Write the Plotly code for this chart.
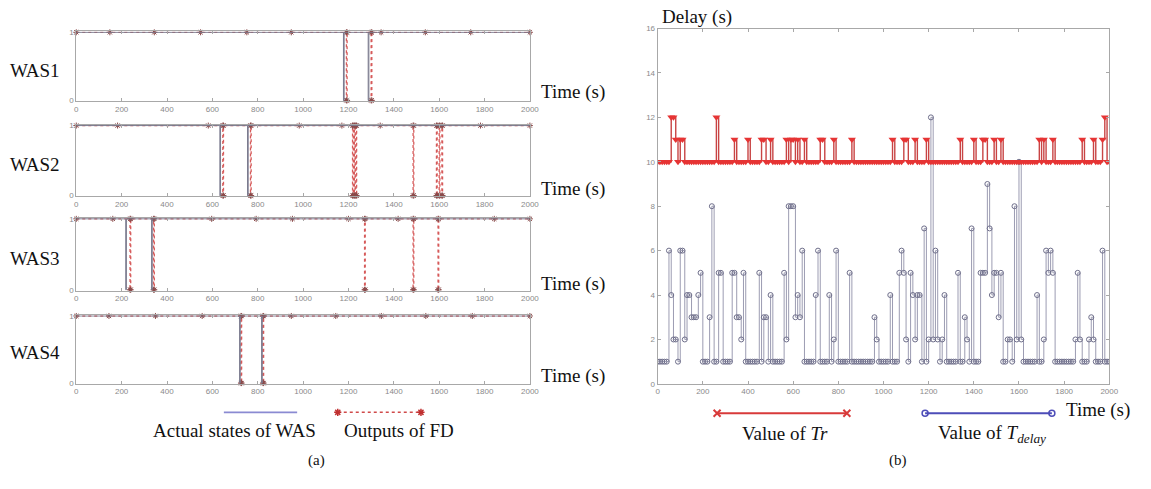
import plotly.graph_objects as go

W, H = 1151, 489

# ---------------- data: panel (a) ----------------
was_names = ["WAS1", "WAS2", "WAS3", "WAS4"]
# times (s) at which the actual state of each WAS drops to 0
actual_down = [
    [1178, 1287],
    [633, 755],
    [218, 332],
    [720, 817],
]
# times (s) at which the failure detector output drops to 0
fd_down = [
    [1191, 1300],
    [646, 768, 1218, 1226, 1233, 1485, 1588, 1600, 1612],
    [237, 341, 1271, 1485, 1595],
    [726, 823],
]
# sampled points (heartbeat marks) of the FD output at state 1
fd_marks = [
    [0, 148, 344, 548, 752, 948, 1344, 1539, 1739, 2000],
    [0, 182, 582, 983, 1171, 1340, 1782, 2000],
    [0, 161, 597, 793, 953, 1200, 1419, 1843, 2000],
    [0, 144, 349, 555, 948, 1144, 1345, 1541, 1746, 2000],
]
x_tick_vals = [0, 200, 400, 600, 800, 1000, 1200, 1400, 1600, 1800, 2000]
state_ticks = [0, 1]
pulse = 3  # seconds a state stays at 0

# ---------------- data: panel (b) ----------------
t_b = list(range(0, 2001, 10))
delay = [
    1, 1, 1, 1, 1, 6, 4, 2, 2, 1,        # 0-90
    6, 6, 2, 4, 4, 3, 3, 3, 4, 5,        # 100-190
    1, 1, 1, 3, 8, 1, 1, 5, 5, 1,        # 200-290
    1, 1, 1, 5, 5, 3, 3, 2, 5, 1,        # 300-390
    1, 1, 1, 1, 1, 5, 1, 3, 3, 1,        # 400-490
    4, 1, 1, 1, 1, 1, 5, 2, 8, 8,        # 500-590
    8, 3, 4, 3, 6, 1, 1, 1, 1, 1,        # 600-690
    4, 6, 1, 1, 1, 1, 4, 1, 2, 6,        # 700-790
    1, 1, 1, 1, 1, 5, 1, 1, 1, 1,        # 800-890
    1, 1, 1, 1, 1, 1, 3, 2, 1, 1,        # 900-990
    1, 1, 1, 4, 1, 1, 1, 5, 6, 5,        # 1000-1090
    2, 1, 5, 4, 2, 4, 4, 1, 7, 1,        # 1100-1190
    2, 12, 2, 6, 2, 1, 2, 4, 1, 1,       # 1200-1290
    1, 1, 1, 5, 1, 1, 3, 2, 1, 7,        # 1300-1390
    1, 1, 1, 5, 5, 5, 9, 7, 4, 5,        # 1400-1490
    5, 3, 5, 1, 1, 2, 2, 1, 8, 2,        # 1500-1590
    10, 2, 1, 1, 1, 1, 1, 1, 4, 1,       # 1600-1690
    1, 2, 6, 5, 6, 5, 1, 1, 1, 1,        # 1700-1790
    1, 1, 1, 1, 1, 2, 5, 2, 1, 1,        # 1800-1890
    1, 2, 3, 2, 1, 1, 1, 6, 1, 1,        # 1900-1990
    1,                                   # 2000
]
tr = [
    10, 10, 10, 10, 10, 10, 12, 12, 11, 10,
    11, 11, 10, 10, 10, 10, 10, 10, 10, 10,
    10, 10, 10, 10, 10, 10, 12, 10, 10, 10,
    10, 10, 10, 10, 11, 10, 10, 10, 10, 10,
    11, 10, 10, 10, 10, 10, 11, 11, 10, 10,
    11, 10, 10, 10, 10, 10, 10, 11, 10, 11,
    11, 10, 11, 10, 10, 11, 10, 10, 10, 10,
    10, 10, 11, 11, 10, 10, 10, 10, 11, 10,
    10, 10, 10, 10, 10, 10, 11, 10, 10, 10,
    10, 10, 10, 10, 10, 10, 10, 10, 10, 10,
    10, 10, 10, 10, 11, 10, 10, 10, 10, 11,
    11, 10, 10, 10, 11, 10, 10, 10, 10, 11,
    10, 10, 10, 10, 10, 10, 10, 10, 10, 10,
    10, 10, 10, 10, 11, 10, 10, 10, 10, 10,
    11, 10, 10, 10, 11, 11, 10, 10, 10, 11,
    10, 10, 11, 10, 10, 10, 10, 10, 10, 10,
    10, 10, 10, 10, 10, 10, 10, 10, 10, 11,
    10, 11, 10, 10, 10, 11, 10, 10, 10, 10,
    10, 10, 10, 10, 10, 10, 10, 10, 11, 10,
    10, 10, 10, 11, 10, 10, 10, 11, 12, 10,
    10,
]
delay_ticks = [0, 2, 4, 6, 8, 10, 12, 14, 16]


# ---------------- helpers ----------------
def fx(p):
    return p / W


def fy(p):
    return 1 - p / H


def step_series(downs, marks):
    events = sorted([(t, "d") for t in downs] + [(t, "m") for t in marks])
    xs, ys = [], []
    for t, kind in events:
        if kind == "m":
            xs.append(t); ys.append(1)
        else:
            xs += [t, t, t + pulse, t + pulse]
            ys += [1, 0, 0, 1]
    if not xs or xs[0] != 0:
        xs.insert(0, 0); ys.insert(0, 1)
    if xs[-1] != 2000:
        xs.append(2000); ys.append(1)
    return xs, ys


fig = go.Figure()

tickfont = dict(family="Liberation Sans", size=8, color="#8a8a8a")
axcol = "#a8a8a8"

# panel (a) pixel rows: (top of y=1, bottom y=0)
rows = [(28, 99), (123, 196), (218, 292), (317, 387)]
label_y = [68, 163, 259, 355]
time_y = [90, 188, 285, 379]

layout_axes = {}
for i in range(4):
    n = "" if i == 0 else str(i + 1)
    xa, ya = "x" + n, "y" + n
    # FD outputs (red dotted)
    fxs, fys = step_series(fd_down[i], fd_marks[i])
    fig.add_trace(go.Scatter(
        x=fxs, y=fys, xaxis=xa, yaxis=ya, mode="lines+markers",
        line=dict(color="#d65a5a", width=1.3, dash="dot"),
        marker=dict(symbol="asterisk-open", size=5, color="#8a4a4a",
                    line=dict(width=1, color="#8a4a4a")),
        cliponaxis=False, showlegend=False, hoverinfo="skip"))
    # Actual states (gray-blue solid)
    axs, ays = step_series(actual_down[i], [])
    fig.add_trace(go.Scatter(
        x=axs, y=ays, xaxis=xa, yaxis=ya, mode="lines",
        line=dict(color="#7a7a8e", width=1),
        showlegend=False, hoverinfo="skip"))
    top, bot = rows[i]
    layout_axes["xaxis" + n] = dict(
        domain=[fx(75), fx(533)], range=[0, 2000], tickvals=x_tick_vals,
        ticks="inside", ticklen=3, tickcolor=axcol, mirror="ticks",
        showline=True, linecolor=axcol, linewidth=1, showgrid=False,
        zeroline=False, tickfont=tickfont, anchor=ya, fixedrange=True)
    layout_axes["yaxis" + n] = dict(
        domain=[fy(bot), fy(top)], range=[-0.012, 1.012], tickvals=state_ticks,
        ticks="inside", ticklen=3, tickcolor=axcol, mirror="ticks",
        showline=True, linecolor=axcol, linewidth=1, showgrid=False,
        zeroline=False, tickfont=tickfont, anchor=xa, fixedrange=True)

# panel (b)
fig.add_trace(go.Scatter(
    x=t_b, y=delay, xaxis="x5", yaxis="y5", mode="lines+markers",
    line=dict(color="#9c9cb2", width=1, shape="hv"),
    marker=dict(symbol="circle-open", size=5, color="#6e6e8a",
                line=dict(width=1, color="#6e6e8a")),
    showlegend=False, hoverinfo="skip"))
fig.add_trace(go.Scatter(
    x=t_b, y=tr, xaxis="x5", yaxis="y5", mode="lines+markers",
    line=dict(color="#c84444", width=1.4, shape="hv"),
    marker=dict(symbol="triangle-down", size=7, color="#e63434"),
    showlegend=False, hoverinfo="skip"))
layout_axes["xaxis5"] = dict(
    domain=[fx(662), fx(1118)], range=[0, 2000], tickvals=x_tick_vals,
    ticks="inside", ticklen=3, tickcolor=axcol, mirror="ticks",
    showline=True, linecolor=axcol, linewidth=1, showgrid=False,
    zeroline=False, tickfont=tickfont, anchor="y5", fixedrange=True)
layout_axes["yaxis5"] = dict(
    domain=[fy(387), fy(25)], range=[0, 16], tickvals=delay_ticks,
    ticks="inside", ticklen=3, tickcolor=axcol, mirror="ticks",
    showline=True, linecolor=axcol, linewidth=1, showgrid=False,
    zeroline=False, tickfont=tickfont, anchor="x5", fixedrange=True)

# overlay axis in pixel units for legends and labels
layout_axes["xaxis6"] = dict(domain=[0, 1], range=[0, W], visible=False,
                             fixedrange=True, anchor="y6")
layout_axes["yaxis6"] = dict(domain=[0, 1], range=[H, 0], visible=False,
                             fixedrange=True, anchor="x6")

# legend keys
fig.add_trace(go.Scatter(x=[224, 298], y=[416, 416], xaxis="x6", yaxis="y6",
                         mode="lines", line=dict(color="#8a8ad2", width=1.6),
                         showlegend=False, hoverinfo="skip"))
fig.add_trace(go.Scatter(x=[339, 423], y=[416, 416], xaxis="x6", yaxis="y6",
                         mode="lines+markers",
                         line=dict(color="#d04a4a", width=1.5, dash="dot"),
                         marker=dict(symbol="asterisk-open", size=6, color="#c03030",
                                     line=dict(width=1.5, color="#c03030")),
                         showlegend=False, hoverinfo="skip"))
fig.add_trace(go.Scatter(x=[722, 853], y=[417, 417], xaxis="x6", yaxis="y6",
                         mode="lines+markers",
                         line=dict(color="#d83a3a", width=2),
                         marker=dict(symbol="x-thin-open", size=7, color="#d83a3a",
                                     line=dict(width=2, color="#d83a3a")),
                         showlegend=False, hoverinfo="skip"))
fig.add_trace(go.Scatter(x=[932, 1060], y=[417, 417], xaxis="x6", yaxis="y6",
                         mode="lines+markers",
                         line=dict(color="#4d4db8", width=2),
                         marker=dict(symbol="circle-open", size=6, color="#4d4db8",
                                     line=dict(width=1.5, color="#4d4db8")),
                         showlegend=False, hoverinfo="skip"))

serif = "Liberation Serif"
ann = []
def txt(x, y, s, size=19, xanchor="center"):
    ann.append(dict(x=x, y=y, xref="x6", yref="y6", text=s, showarrow=False,
                    xanchor=xanchor, yanchor="middle",
                    font=dict(family=serif, size=size, color="#111")))

for i in range(4):
    txt(33, label_y[i], was_names[i])
    txt(542, time_y[i], "Time (s)", xanchor="left")
txt(150, 435, "Actual states of WAS", xanchor="left")
txt(343, 435, "Outputs of FD", xanchor="left")
txt(318, 465, "(a)", size=15)
txt(664, 13, "Delay (s)", xanchor="left")
txt(1072, 414, "Time (s)", xanchor="left")
txt(791, 438, "Value of <i>Tr</i>")
txt(1000, 438, "Value of <i>T<sub>delay</sub></i>")
txt(905, 465, "(b)", size=15)

fig.update_layout(
    width=W, height=H, margin=dict(l=0, r=0, t=0, b=0),
    paper_bgcolor="white", plot_bgcolor="rgba(0,0,0,0)",
    annotations=ann, showlegend=False, **layout_axes)

fig.write_html("out.html", config={"displayModeBar": False},
               post_script="document.body.style.margin='0';document.body.style.overflow='hidden';")
